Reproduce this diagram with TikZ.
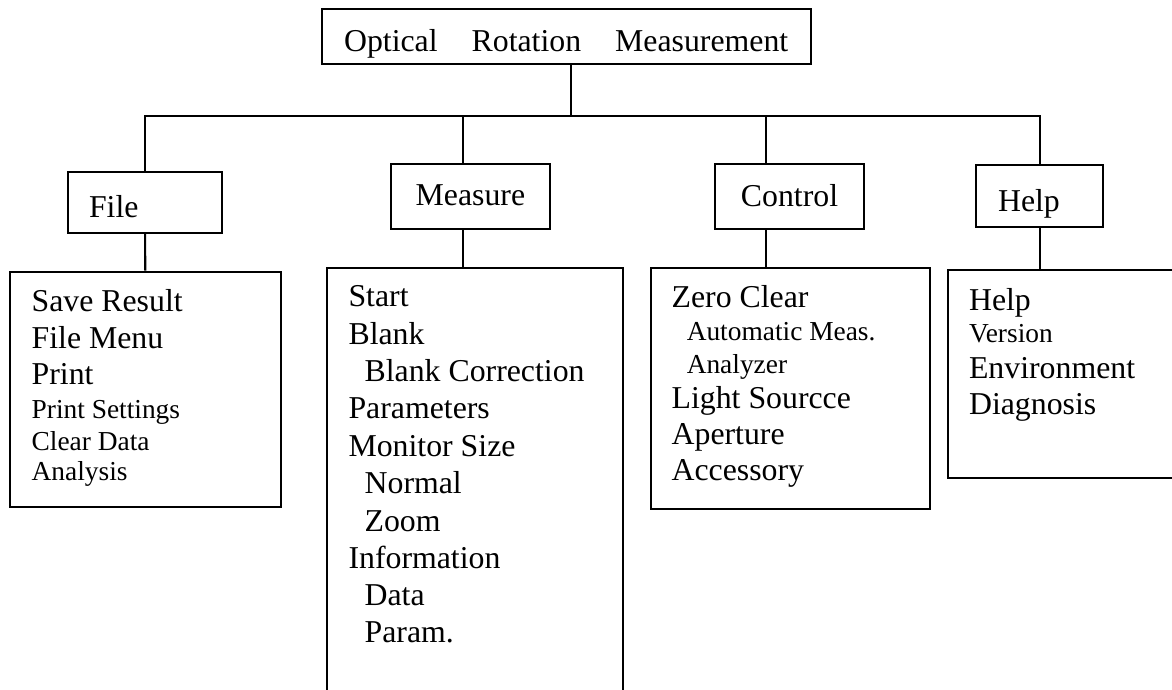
\documentclass[tikz,border=0pt]{standalone}
\usepackage{fontspec}
\setmainfont{Liberation Serif}
\newcommand{\menubig}{\fontsize{31.8}{36}\selectfont}
\newcommand{\menusmall}{\fontsize{27.4}{31}\selectfont}

\begin{document}
\begin{tikzpicture}[x=1pt, y=-1pt, line width=2.1pt,
   box/.style={draw, inner sep=0pt, anchor=north west, font=\menubig},
   entry/.style={anchor=base west, inner sep=0pt, font=\menubig},
   minor/.style={anchor=base west, inner sep=0pt, font=\menusmall}]%
   % 1 unit = 1pt, y runs downward like the 1172x690 sheet
   \useasboundingbox (0,0) rectangle (1172,690);
   \clip (0,0) rectangle (1172,690);

   % Title
   \node[box, minimum width=488.8pt, minimum height=55pt, text height=28.4pt, text depth=0pt]
     (root) at (320.7,8.3) {Optical\hspace{34pt}Rotation\hspace{34pt}Measurement};

   % Menu boxes
   \node[box, minimum height=61pt, text width=112pt, inner xsep=21pt, align=left,
     text height=30.4pt, text depth=0pt] (file) at (67,171) {File};
   \node[box, minimum width=158.7pt, minimum height=65pt, text height=22pt, text depth=4.4pt]
     (measure) at (390,162.7) {Measure};
   \node[box, minimum width=149pt, minimum height=64.4pt, text height=23pt, text depth=4pt]
     (control) at (714,163.3) {Control};
   \node[box, minimum height=61.4pt, text width=83.3pt, inner xsep=21.7pt, align=left,
     text height=30pt, text depth=0pt] (help) at (975.3,164.3) {Help};

   % List boxes (measure and help run off the sheet)
   \node[box, minimum width=271.5pt, minimum height=235.3pt] (flist) at (8.5,270.7) {};
   \node[box, minimum width=296pt, minimum height=440pt] (mlist) at (326,266.7) {};
   \node[box, minimum width=278.5pt, minimum height=241pt] (clist) at (650,266.7) {};
   \node[box, minimum width=260pt, minimum height=208pt] (hlist) at (947,268.7) {};

   % Connectors
   \coordinate (bus) at (571,116);
   \coordinate (tapM) at (463,116);
   \coordinate (tapC) at (765.7,116);
   \draw (root.south -| bus) -- (bus);
   \draw (file.north) |- (bus) -| (help.north);
   \draw (tapM) -- (tapM |- measure.north);
   \draw (tapC) -- (tapC |- control.north);
   \draw (file.south) -- (flist.north);
   \draw (measure.south -| tapM) -- (tapM |- mlist.north);
   \draw (control.south -| tapC) -- (tapC |- clist.north);
   \draw (help.south) -- (help.south |- hlist.north);

   % Entries
   \foreach \px/\py/\st/\txt [count=\i] in {30.6/311.7/entry/Save Result, 30.6/348.3/entry/File Menu,
       30.6/384.3/entry/Print, 30.6/418.3/minor/Print Settings, 30.6/450/minor/Clear Data,
       30.6/480/minor/Analysis}
     \node[\st] (f\i) at (\px,\py) {\txt};
   \foreach \px/\py/\txt [count=\i] in {347.5/306.7/Start, 347.5/344/Blank, 363.6/381/Blank Correction,
       347.5/418/Parameters, 347.5/456.7/Monitor Size, 363.6/493/Normal, 363.6/531/Zoom,
       347.5/568/Information, 363.6/605/Data, 363.6/642/Param.}
     \node[entry] (m\i) at (\px,\py) {\txt};
   \foreach \px/\py/\st/\txt [count=\i] in {670.6/307.3/entry/Zero Clear, 685.7/340.7/minor/Automatic Meas.,
       685.7/373.3/minor/Analyzer, 670.6/408.3/entry/Light Sourcce, 670.6/444/entry/Aperture,
       670.6/480/entry/Accessory}
     \node[\st] (c\i) at (\px,\py) {\txt};
   \foreach \px/\py/\st/\txt [count=\i] in {968/310/entry/Help, 968/342.7/minor/Version,
       968/378.3/entry/Environment, 968/414/entry/Diagnosis}
     \node[\st] (h\i) at (\px,\py) {\txt};
\end{tikzpicture}
\end{document}
